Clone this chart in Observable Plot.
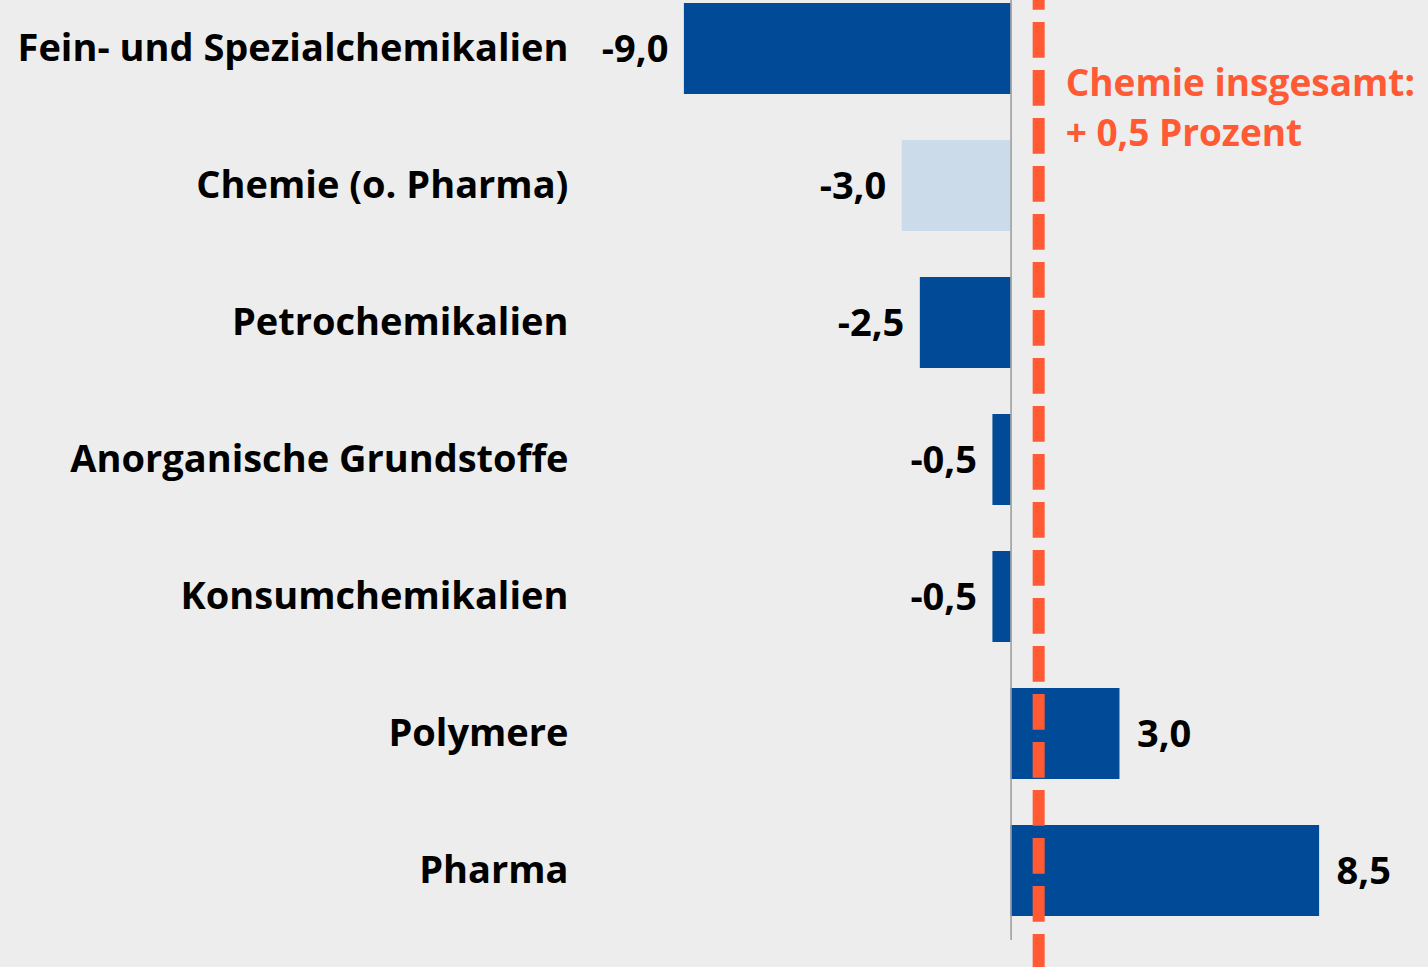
<!DOCTYPE html>
<html><head><meta charset="utf-8">
<script src="https://cdn.jsdelivr.net/npm/d3@7"></script>
<script src="https://cdn.jsdelivr.net/npm/@observablehq/plot@0.6"></script>
<style>
html,body{margin:0;padding:0;background:#ededed;}
#chart svg{display:block;}
</style>
</head><body><div id="chart"></div>
<script>
const categories = [
  "Fein- und Spezialchemikalien",
  "Chemie (o. Pharma)",
  "Petrochemikalien",
  "Anorganische Grundstoffe",
  "Konsumchemikalien",
  "Polymere",
  "Pharma"
];
const values = [-9.0, -3.0, -2.5, -0.5, -0.5, 3.0, 8.5];
const highlighted = ["Chemie (o. Pharma)"];
const totalLines = ["Chemie insgesamt:", "+ 0,5 Prozent"];
const totalLinePos = 0.76; // where the dashed line sits on the x scale in the picture

const dark = "#004a97";
const light = "#cbdbea";
const orange = "#ff5a34";

const data = categories.map((c, i) => ({category: c, value: values[i]}));
const fmt = v => v.toFixed(1).replace(".", ",");
const font = "'Open Sans', sans-serif";

const chart = Plot.plot({
  width: 1428,
  height: 967,
  marginLeft: 575,
  marginRight: 0,
  marginTop: 0,
  marginBottom: 0,
  style: {background: "#ededed", fontFamily: font, fontWeight: "bold", fontSize: "38px", color: "#000"},
  x: {domain: [-12, 11.5], axis: null},
  y: {domain: categories, paddingInner: 0.336, paddingOuter: 0.197, align: 0.056, axis: null},
  color: {type: "identity"},
  marks: [
    Plot.barX(data, {x: "value", y: "category", fill: d => highlighted.includes(d.category) ? light : dark}),
    Plot.ruleX([0], {stroke: "#9a9a9a", strokeWidth: 1.5, insetBottom: 27}),
    Plot.ruleX([totalLinePos], {stroke: orange, strokeWidth: 12, strokeDasharray: "35.7,12.3", strokeDashoffset: 26}),
    Plot.axisY({tickSize: 0, tickPadding: 7, label: null, fontSize: 38, fontWeight: "bold", fill: "#000"}),
    Plot.text(data.filter(d => d.value < 0), {x: "value", y: "category", text: d => fmt(d.value), textAnchor: "end", dx: -16, dy: 1, fontSize: 38, fontWeight: "bold", fill: "#000"}),
    Plot.text(data.filter(d => d.value >= 0), {x: "value", y: "category", text: d => fmt(d.value), textAnchor: "start", dx: 17, dy: 1, fontSize: 38, fontWeight: "bold", fill: "#000"}),
    Plot.text([totalLines.join("\n")], {x: () => totalLinePos, y: () => categories[0], text: d => d, textAnchor: "start", lineAnchor: "top", lineHeight: 50/37, dx: 27, dy: 11, fontSize: 37, fontWeight: "bold", fill: orange})
  ]
});
document.getElementById("chart").appendChild(chart);
</script>
</body></html>
